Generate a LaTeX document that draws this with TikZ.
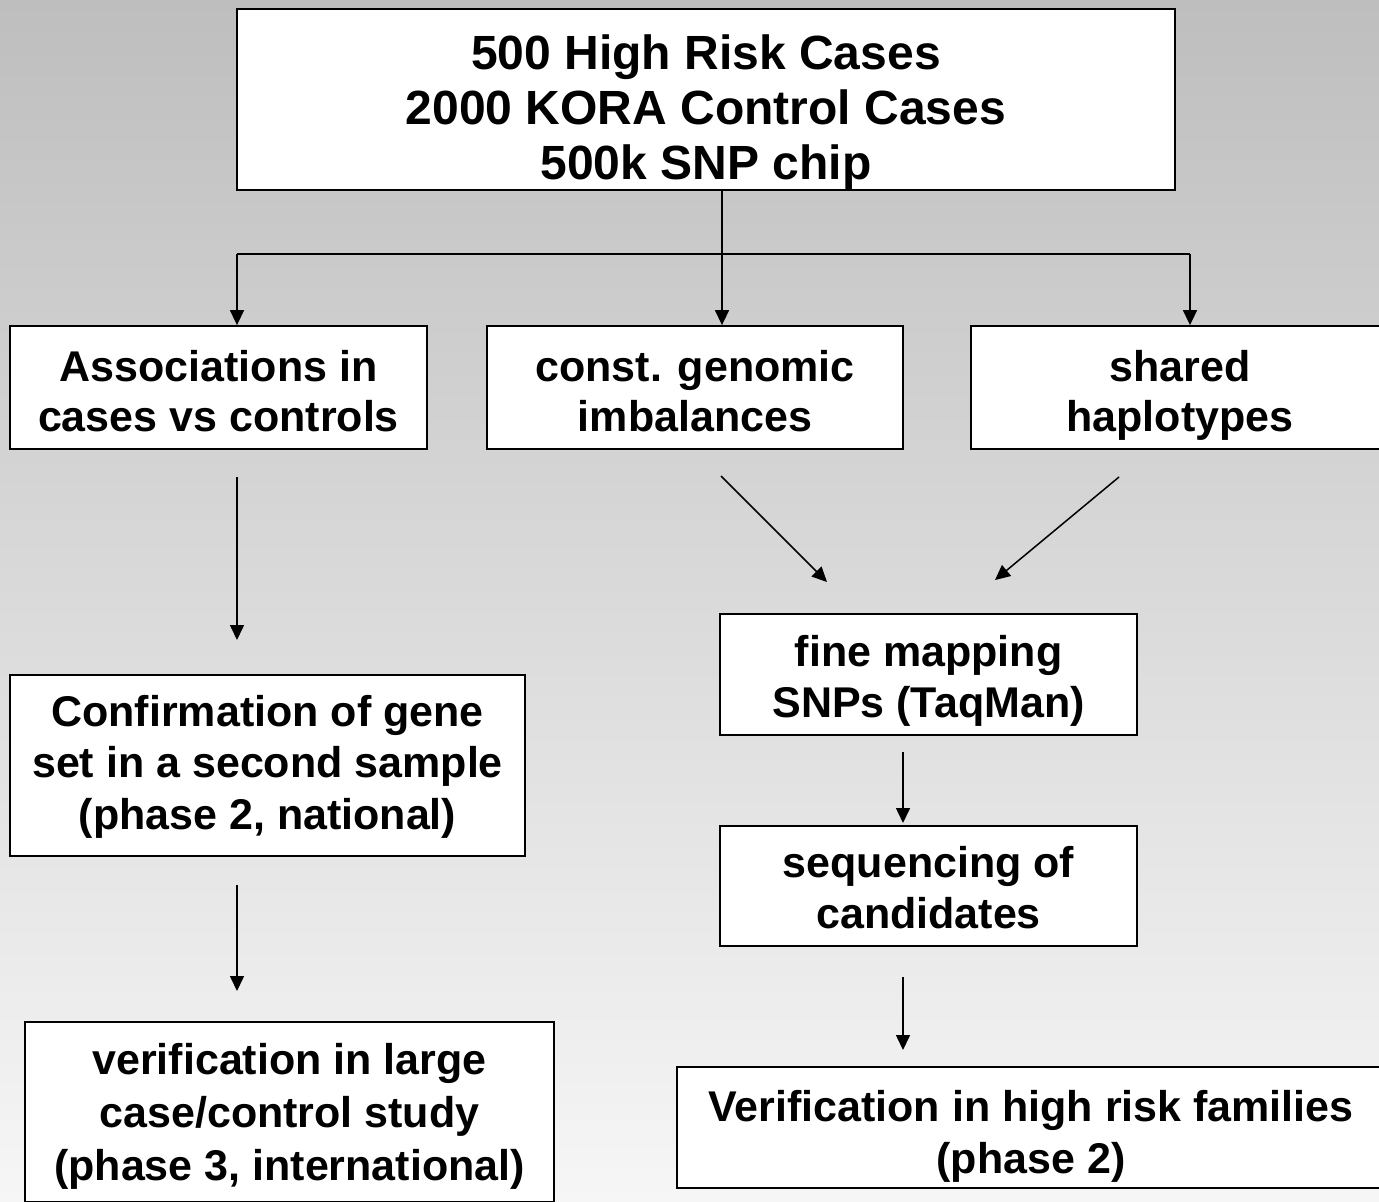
\documentclass[tikz,border=0pt]{standalone}
\usepackage{fontspec}
\setmainfont{Liberation Sans}
\usetikzlibrary{arrows.meta}
\newcommand\boxtext[4]{\raisebox{#1}[0pt][0pt]{\fontsize{#2}{#3}\selectfont\begin{tabular}[t]{@{}c@{}}#4\end{tabular}}}
\begin{document}
\begin{tikzpicture}[x=0.5pt,y=-0.5pt,
  box/.style={draw=black, line width=0.9pt, fill=white, inner sep=0pt, font=\bfseries},
  arr/.style={line width=0.75pt, -{Triangle[length=7.5pt,width=7pt]}},
  ln/.style={line width=0.75pt}]
\useasboundingbox (0,0) rectangle (1379,1201);
\clip (0,0) rectangle (1379,1201);
\shade[top color={rgb,255:red,190;green,190;blue,190}, bottom color={rgb,255:red,246;green,246;blue,246}] (0,0) rectangle (1379,1201);

\node[box, minimum width=469pt, minimum height=90.5pt] (top) at (706,99.5)
  {\boxtext{15.25pt}{24pt}{27.5pt}{500 High Risk Cases\\2000 KORA Control Cases\\500k SNP chip}};
\node[box, minimum width=208.5pt, minimum height=61.5pt] (assoc) at (218.5,387.5)
  {\boxtext{3.25pt}{21.5pt}{25pt}{Associations in\\cases vs controls}};
\node[box, minimum width=208pt, minimum height=61.5pt] (const) at (695,387.5)
  {\boxtext{3.25pt}{21.5pt}{25pt}{const. genomic\\imbalances}};
\node[box, minimum width=209pt, minimum height=61.5pt] (shared) at (1180,387.5)
  {\boxtext{3.25pt}{21.5pt}{25pt}{shared\\haplotypes}};
\node[box, minimum width=257.5pt, minimum height=90.5pt] (confirm) at (267.5,765.5)
  {\boxtext{19.75pt}{21.5pt}{25.75pt}{Confirmation of gene\\set in a second sample\\(phase 2, national)}};
\node[box, minimum width=208.5pt, minimum height=60.5pt] (fine) at (928.5,674.5)
  {\boxtext{4.25pt}{21.5pt}{25.5pt}{fine mapping\\SNPs (TaqMan)}};
\node[box, minimum width=208.5pt, minimum height=60pt] (seq) at (928.5,886)
  {\boxtext{4.5pt}{21.5pt}{25.75pt}{sequencing of\\candidates}};
\node[box, minimum width=264.5pt, minimum height=90pt] (verL) at (289.5,1112)
  {\boxtext{19pt}{21.5pt}{26.5pt}{verification in large\\case/control study\\(phase 3, international)}};
\node[box, minimum width=354pt, minimum height=60.5pt] (verR) at (1031,1127.5)
  {\boxtext{3.25pt}{21.5pt}{26pt}{Verification in high risk families\\(phase 2)}};

% top splitter
\coordinate (split) at (722,254);
\coordinate (hl) at (237,254);
\coordinate (hr) at (1190,254);
\draw[ln] (top.south -| split) -- (split);
\draw[ln] (hl) -- (hr);
\draw[arr] (hl) -- (hl |- assoc.north);
\draw[arr] (split) -- (split |- const.north);
\draw[arr] (hr) -- (hr |- shared.north);

% free arrows
\coordinate (a1s) at (237,477); \coordinate (a1e) at (237,640);
\coordinate (a2s) at (237,885); \coordinate (a2e) at (237,991);
\coordinate (d1s) at (721,476); \coordinate (d1e) at (827,582);
\coordinate (d2s) at (1119,477); \coordinate (d2e) at (995,580);
\coordinate (f1s) at (903,752); \coordinate (f1e) at (903,823);
\coordinate (f2s) at (903,977); \coordinate (f2e) at (903,1050);
\draw[arr] (a1s) -- (a1e);
\draw[arr] (a2s) -- (a2e);
\draw[arr] (d1s) -- (d1e);
\draw[arr] (d2s) -- (d2e);
\draw[arr] (f1s) -- (f1e);
\draw[arr] (f2s) -- (f2e);
\end{tikzpicture}
\end{document}
